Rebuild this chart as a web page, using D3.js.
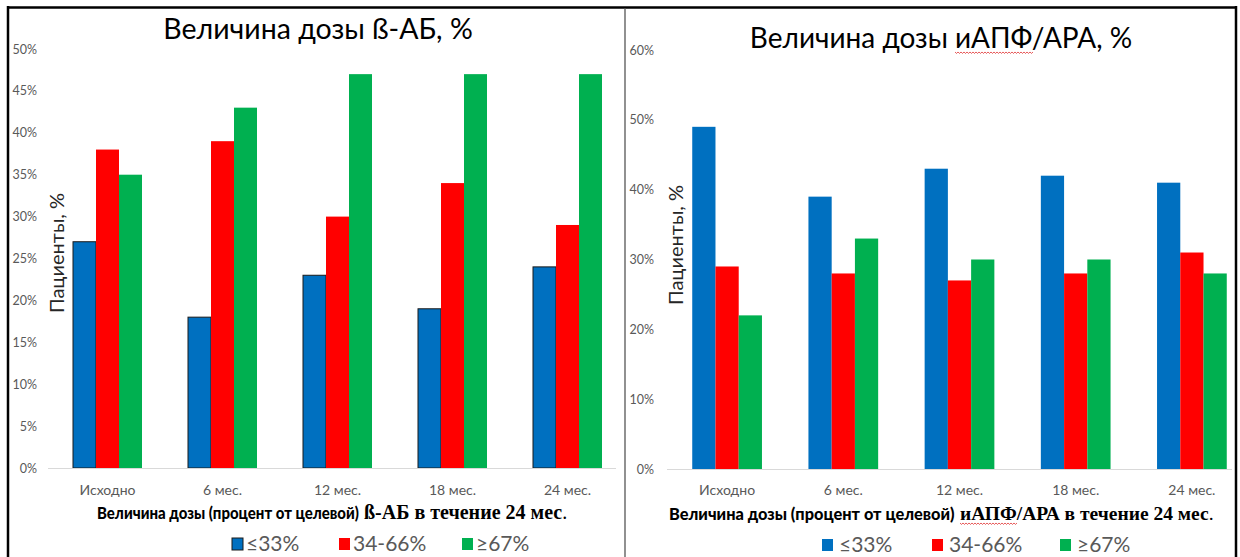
<!DOCTYPE html>
<html>
<head>
<meta charset="utf-8">
<script src="https://cdn.jsdelivr.net/npm/d3@7"></script>
<style>
  html, body { margin: 0; padding: 0; background: #fff; }
  svg { display: block; }
</style>
</head>
<body>
<svg id="chart" width="1240" height="557"></svg>
<script>
// Dose groups over 24 months of follow-up
const categories = ["Исходно", "6 мес.", "12 мес.", "18 мес.", "24 мес."];
const seriesNames = ["≤33%", "34-66%", "≥67%"];

// Beta-blocker dose, % of patients
const betaLow  = [27, 18, 23, 19, 24];
const betaMid  = [38, 39, 30, 34, 29];
const betaHigh = [35, 43, 47, 47, 47];
const betaTicks = [0, 5, 10, 15, 20, 25, 30, 35, 40, 45, 50];

// ACE inhibitor / ARB dose, % of patients
const aceLow  = [49, 39, 43, 42, 41];
const aceMid  = [29, 28, 27, 28, 31];
const aceHigh = [22, 33, 30, 30, 28];
const aceTicks = [0, 10, 20, 30, 40, 50, 60];

const colors = ["#0070C0", "#FF0000", "#00B050"];
const SANS = "Lato, 'Open Sans', sans-serif";
const SERIF = "'Liberation Serif', 'DejaVu Serif', serif";

const svg = d3.select("#chart");

// Outer frame of the two-panel figure
const frame = svg.append("g");
frame.append("line").attr("x1", 7).attr("x2", 1237).attr("y1", 7.5).attr("y2", 7.5)
  .attr("stroke", "#000").attr("stroke-width", 2.5);
frame.append("line").attr("x1", 8).attr("x2", 8).attr("y1", 6).attr("y2", 557)
  .attr("stroke", "#000").attr("stroke-width", 2.5);
frame.append("line").attr("x1", 1236).attr("x2", 1236).attr("y1", 6).attr("y2", 557)
  .attr("stroke", "#000").attr("stroke-width", 2.5);
frame.append("line").attr("x1", 625).attr("x2", 625).attr("y1", 8).attr("y2", 557)
  .attr("stroke", "#555").attr("stroke-width", 1.3);

// red squiggle under a word (proof-reading mark)
function squiggle(g, x0, x1, y) {
  let d = `M${x0},${y}`;
  for (let x = x0, i = 0; x < x1; x += 1.5, i++) {
    d += ` L${x + 1.5},${y + (i % 2 ? 0 : 1.4)}`;
  }
  g.append("path").attr("d", d).attr("fill", "none")
    .attr("stroke", "#e03030").attr("stroke-width", 0.8);
}

function drawPanel(cfg) {
  const g = svg.append("g");
  const x = d3.scaleBand().domain(categories).range(cfg.xRange)
    .paddingInner(0.4).paddingOuter(0.2);
  const xs = d3.scaleBand().domain(seriesNames).range([0, x.bandwidth()]);
  const y = d3.scaleLinear().domain([0, d3.max(cfg.ticks)]).range(cfg.yRange);

  // value axis (labels only)
  const yAxis = g.append("g")
    .attr("transform", `translate(${cfg.yLabelX},0)`)
    .call(d3.axisLeft(y).tickValues(cfg.ticks).tickSize(0).tickPadding(0)
      .tickFormat(d => d + "%"));
  yAxis.select(".domain").remove();
  yAxis.selectAll("text").attr("fill", "#595959")
    .style("font-family", SANS).style("font-size", "12.5px");

  // bars
  const rows = categories.map((c, i) => ({ c, vals: cfg.series.map(s => s[i]) }));
  const grp = g.selectAll(".grp").data(rows).join("g")
    .attr("transform", d => `translate(${x(d.c)},0)`);
  grp.selectAll("rect").data(d => d.vals.map((v, k) => ({ v, k })))
    .join("rect")
    .attr("x", d => xs(seriesNames[d.k]))
    .attr("width", xs.bandwidth())
    .attr("y", d => y(d.v))
    .attr("height", d => y(0) - y(d.v))
    .attr("fill", d => colors[d.k])
    .attr("stroke", d => (d.k === 0 && cfg.blueOutline) ? "#1a1a1a" : "none")
    .attr("stroke-width", 1);

  // category axis
  g.append("line")
    .attr("x1", cfg.xRange[0] - 2).attr("x2", cfg.axisEnd)
    .attr("y1", y(0) + 0.5).attr("y2", y(0) + 0.5)
    .attr("stroke", "#d9d9d9").attr("stroke-width", 1.2);
  g.selectAll(".cat").data(categories).join("text")
    .attr("x", d => x(d) + x.bandwidth() / 2)
    .attr("y", cfg.catY)
    .attr("text-anchor", "middle")
    .attr("fill", "#595959")
    .style("font-family", SANS).style("font-size", "14px")
    .text(d => d);

  // y title
  g.append("text")
    .attr("transform", `translate(${cfg.yTitleX},${cfg.yTitleY}) rotate(-90)`)
    .attr("text-anchor", "middle")
    .attr("fill", "#262626")
    .style("font-family", SANS).style("font-size", "20px")
    .text("Пациенты, %");

  // chart title
  const t = g.append("text")
    .attr("x", cfg.titleX).attr("y", cfg.titleY)
    .attr("text-anchor", "middle")
    .attr("fill", "#000")
    .style("font-family", SANS).style("font-size", cfg.titleSize + "px");
  cfg.title.forEach(p => t.append("tspan").text(p));

  // x title: horizontally condensed bold sans lead-in followed by a serif run
  const lead = "Величина дозы (процент от целевой)";
  const xa = g.append("text")
    .attr("fill", "#000")
    .style("font-family", SANS).style("font-weight", "900").style("font-size", "17px")
    .text(lead);
  const sx = cfg.xTitleSansW / xa.node().getComputedTextLength();
  xa.attr("transform", `translate(${cfg.xTitleX},${cfg.xTitleY}) scale(${sx},1)`);
  const xb = g.append("text")
    .attr("x", cfg.xTitleX + cfg.xTitleSansW + 5).attr("y", cfg.xTitleY)
    .attr("fill", "#000")
    .style("font-family", SERIF).style("font-size", cfg.xTitleSerifSize + "px");
  xb.append("tspan").style("font-weight", "bold").text(cfg.drug + " в течение 24 мес");
  xb.append("tspan").text(".");

  // legend
  const lg = g.append("g");
  seriesNames.forEach((name, k) => {
    const lx = cfg.legendX[k];
    lg.append("rect")
      .attr("x", lx).attr("y", cfg.legendY - 7)
      .attr("width", 11).attr("height", 12)
      .attr("fill", colors[k])
      .attr("stroke", (k === 0 && cfg.blueOutline) ? "#1a1a1a" : "none")
      .attr("stroke-width", 1);
    lg.append("text")
      .attr("x", lx + cfg.legendTextGap).attr("y", cfg.legendY + 6)
      .attr("fill", "#595959")
      .style("font-family", SANS).style("font-size", cfg.legendSize + "px")
      .text(name);
  });

  // proof-reading marks under the abbreviation
  if (cfg.markWord !== undefined) {
    const tn = t.node();
    const before = cfg.title.slice(0, cfg.markWord).join("").length;
    const st = tn.getStartPositionOfChar(before).x;
    const en = tn.getEndPositionOfChar(before + cfg.title[cfg.markWord].length - 1).x;
    squiggle(g, st, en, cfg.titleY + 4);
    const xn = xb.node();
    const s2 = xn.getStartPositionOfChar(0).x;
    const e2 = xn.getEndPositionOfChar(3).x;
    squiggle(g, s2, e2, cfg.xTitleY + 3);
  }
}

drawPanel({
  series: [betaLow, betaMid, betaHigh],
  ticks: betaTicks,
  xRange: [50, 625],
  axisEnd: 616,
  yRange: [468, 49],
  yLabelX: 37,
  catY: 495,
  yTitleX: 64, yTitleY: 253,
  title: ["Величина дозы ß-АБ, %"],
  titleSize: 28.5,
  titleX: 318, titleY: 39,
  drug: "ß-АБ",
  xTitleX: 97, xTitleY: 519,
  xTitleSansW: 262, xTitleSerifSize: 20,
  legendX: [232, 339, 462], legendTextGap: 14,
  legendY: 545, legendSize: 21,
  blueOutline: true
});

drawPanel({
  series: [aceLow, aceMid, aceHigh],
  ticks: aceTicks,
  xRange: [669, 1250],
  axisEnd: 1232,
  yRange: [469, 50],
  yLabelX: 654,
  catY: 495,
  yTitleX: 683, yTitleY: 245,
  title: ["Величина дозы ", "иАПФ", "/АРА, %"],
  titleSize: 28,
  titleX: 941, titleY: 48,
  markWord: 1,
  drug: "иАПФ/АРА",
  xTitleX: 669, xTitleY: 520,
  xTitleSansW: 286, xTitleSerifSize: 19.5,
  legendX: [822, 932, 1060], legendTextGap: 17,
  legendY: 546, legendSize: 21,
  blueOutline: false
});
</script>
</body>
</html>
